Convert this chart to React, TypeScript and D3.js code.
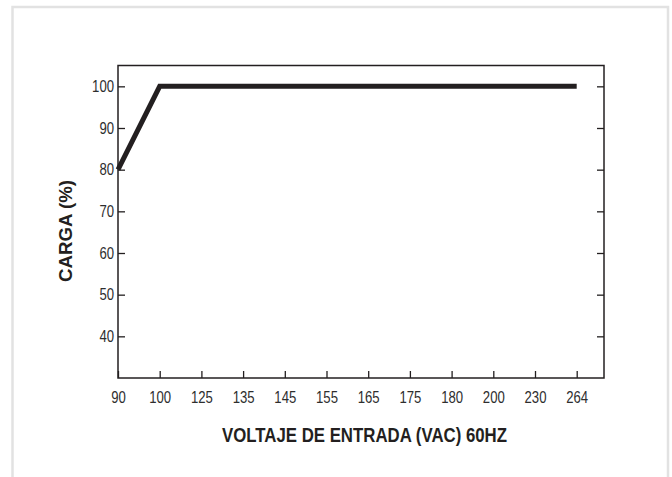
import React, { useEffect, useRef } from 'react';
import * as d3 from 'd3';

// input voltage steps (categorical, evenly spaced on the axis)
const voltages = ['90', '100', '125', '135', '145', '155', '165', '175', '180', '200', '230', '264'];
// load in percent at each voltage
const loadValues = [80, 100, 100, 100, 100, 100, 100, 100, 100, 100, 100, 100];
const yTicks = [40, 50, 60, 70, 80, 90, 100];

const WIDTH = 672;
const HEIGHT = 477;

const App: React.FC = () => {
  const svgRef = useRef<SVGSVGElement>(null);

  useEffect(() => {
    const svgElement = svgRef.current;
    if (!svgElement) return;

    const svg = d3.select(svgElement);
    svg.selectAll('*').remove();

    const margin = { top: 65.5, right: 68, bottom: 99, left: 118 };
    const innerWidth = WIDTH - margin.left - margin.right;
    const innerHeight = HEIGHT - margin.top - margin.bottom;
    const step = 41.7;
    const ink = '#231f20';
    const tickFont = "'Liberation Sans', Arial, sans-serif";

    // outer light frame
    svg.append('rect')
      .attr('x', 12.5)
      .attr('y', 7)
      .attr('width', 655.5)
      .attr('height', HEIGHT)
      .attr('fill', 'none')
      .attr('stroke', '#e2e2e2')
      .attr('stroke-width', 2.5);

    const xScale = d3
      .scalePoint<string>()
      .domain(voltages)
      .range([0, step * (voltages.length - 1)]);

    const yScale = d3
      .scaleLinear()
      .domain([30, 105])
      .range([innerHeight, 0]);

    const g = svg
      .append('g')
      .attr('transform', `translate(${margin.left}, ${margin.top})`);

    // X axis, ticks pointing inward
    const xAxis = g.append('g')
      .attr('transform', `translate(0, ${innerHeight})`)
      .call(d3.axisBottom(xScale).tickSize(-7).tickPadding(14));

    // Y axis left, ticks inward
    const yAxis = g.append('g')
      .call(d3.axisLeft(yScale).tickValues(yTicks).tickSize(-7).tickPadding(4));

    // Y axis right, ticks inward, no labels
    g.append('g')
      .attr('transform', `translate(${innerWidth}, 0)`)
      .call(d3.axisRight(yScale).tickValues(yTicks).tickSize(-7).tickFormat(() => ''));

    g.selectAll('.domain').remove();
    g.selectAll('.tick line')
      .style('stroke', ink)
      .style('stroke-width', 1.3);

    [xAxis, yAxis].forEach((axis) => {
      axis.selectAll<SVGTextElement, unknown>('text')
        .style('fill', '#2e2e2e')
        .style('font-family', tickFont)
        .style('font-size', '16px')
        .attr('textLength', function () {
          return (this.textContent || '').length * 7.3;
        })
        .attr('lengthAdjust', 'spacingAndGlyphs');
    });

    // plot frame
    g.append('rect')
      .attr('width', innerWidth)
      .attr('height', innerHeight)
      .attr('fill', 'none')
      .attr('stroke', ink)
      .attr('stroke-width', 1.5);

    // load curve
    const line = d3
      .line<number>()
      .x((_, i) => xScale(voltages[i]) ?? 0)
      .y(d => yScale(d));

    g.append('path')
      .datum(loadValues)
      .attr('fill', 'none')
      .attr('stroke', ink)
      .attr('stroke-width', 5)
      .attr('stroke-linejoin', 'miter')
      .attr('d', line);

    // axis titles
    svg.append('text')
      .attr('x', 364.5)
      .attr('y', 442)
      .attr('text-anchor', 'middle')
      .attr('textLength', 285)
      .attr('lengthAdjust', 'spacingAndGlyphs')
      .style('font-family', "'Liberation Sans', Arial, sans-serif")
      .style('font-weight', 'bold')
      .style('font-size', '19.5px')
      .style('fill', ink)
      .text('VOLTAJE DE ENTRADA (VAC) 60HZ');

    svg.append('text')
      .attr('transform', 'translate(72, 231) rotate(-90)')
      .attr('text-anchor', 'middle')
      .attr('textLength', 102)
      .attr('lengthAdjust', 'spacingAndGlyphs')
      .style('font-family', "'Liberation Sans', Arial, sans-serif")
      .style('font-weight', 'bold')
      .style('font-size', '18.5px')
      .style('fill', ink)
      .text('CARGA (%)');

    return () => {
      svg.selectAll('*').remove();
    };
  }, []);

  return (
    <svg
      ref={svgRef}
      width={WIDTH}
      height={HEIGHT}
      style={{ position: 'absolute', left: 0, top: 0, background: '#fff' }}
    />
  );
};

export default App;
